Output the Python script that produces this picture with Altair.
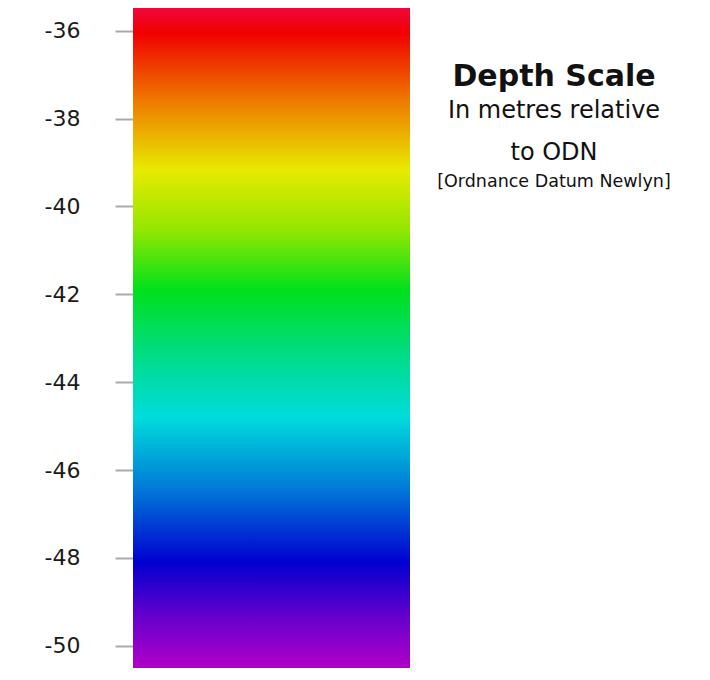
import altair as alt
import pandas as pd

# Depth range of the colour bar (metres relative to ODN)
bar_top = -35.483
bar_bottom = -50.507

# Gradient stops: depth and colour
stop_depths = [-35.44, -36.05, -37.6, -39.17, -40.55, -41.9, -43.3, -44.8, -46.45, -48.1, -49.4, -50.62]
stop_colors = ["#f0073c", "#f00000", "#ee7a00", "#e8ea00", "#92e600", "#00e01a",
               "#00dc80", "#00dcdc", "#0078d6", "#0000d0", "#6a00cc", "#b000c8"]

tick_values = [-36, -38, -40, -42, -44, -46, -48, -50]

title_lines = ["Depth Scale", "In metres relative", "to ODN", "[Ordnance Datum Newlyn]"]
title_sizes = [30, 24, 24, 17.5]
title_weights = ["bold", "normal", "normal", "normal"]
title_baselines = [78, 110, 152, 179]

span = bar_top - bar_bottom
stops = [
    alt.GradientStop(offset=max(0.0, min(1.0, (bar_top - d) / span)), color=c)
    for d, c in zip(stop_depths, stop_colors)
]

bar_df = pd.DataFrame({"top": [bar_top], "bottom": [bar_bottom]})

yscale = alt.Scale(domain=[bar_bottom, bar_top], nice=False, zero=False)

bar = alt.Chart(bar_df).mark_rect(
    color=alt.Gradient(gradient="linear", stops=stops, x1=0, x2=0, y1=0, y2=1)
).encode(
    y=alt.Y("top:Q", scale=yscale,
            axis=alt.Axis(values=tick_values, title=None, domain=False, grid=False,
                          tickSize=18, tickWidth=2, tickColor="#aaaaaa",
                          labelExpr="'-' + format(abs(datum.value), 'd')",
                          labelFontSize=22, labelFont="DejaVu Sans", labelFontWeight="normal",
                          labelColor="#1a1a1a", labelPadding=35)),
    y2="bottom:Q",
    x=alt.value(0),
    x2=alt.value(277),
)

texts = []
for line, size, weight, base in zip(title_lines, title_sizes, title_weights, title_baselines):
    t = alt.Chart(pd.DataFrame({"line": [line]})).mark_text(
        font="DejaVu Sans", fontSize=size, fontWeight=weight, color="#111111",
        align="center", baseline="alphabetic"
    ).encode(
        text="line:N",
        x=alt.value(421),
        y=alt.value(base),
    )
    texts.append(t)

chart = alt.layer(bar, *texts).properties(
    width=277, height=660,
    padding={"left": 125, "top": 0, "right": 280, "bottom": 0},
    autosize=alt.AutoSizeParams(type="none"),
).configure_view(stroke=None)

chart.save("out.html", embed_options={"renderer": "svg", "actions": False})
